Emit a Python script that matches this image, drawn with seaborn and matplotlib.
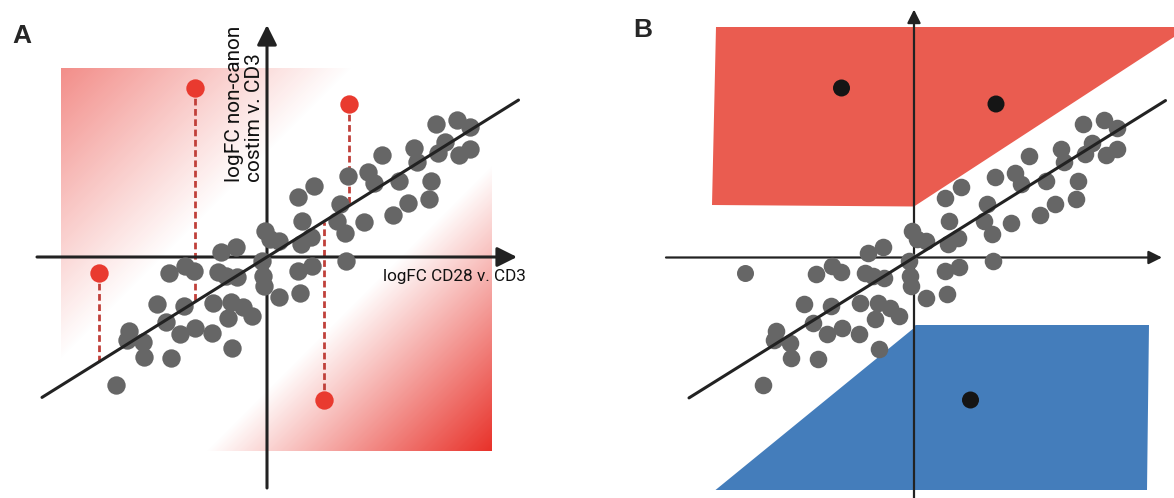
import numpy as np
import matplotlib.pyplot as plt
import seaborn as sns

sns.set_theme(style="white")
plt.rcParams["font.family"] = ["Roboto", "DejaVu Sans"]

# ========== data (logFC units, read off the schematic) ==========
# grey genes, shared by panel A and panel B
gene_x = [3.37, 3.80, 4.05, 3.55, 3.42, 3.84, 4.06, 2.94, 2.99, 2.29, 2.02, 2.13,
          2.64, 3.27, 3.23, 2.82, 2.51, 1.94, 1.62, 1.45, 1.40, 1.56, 1.58, 0.94,
          0.61, 0.70, 0.87, 0.67, -0.04, 0.06, 0.23, 0.89, 0.62, 0.65, 0.23, -0.11,
          -0.09, -0.07, -0.63, -0.93, -0.98, -0.61, -0.83, -1.47, -1.65, -1.96,
          -1.09, -0.73, -0.48, -0.30, -0.79, -1.67, -2.20, -2.02, -1.44, -1.11,
          -1.74, -2.77, -2.81, -2.48, -2.47, -1.92, -0.70, -3.03]
gene_y = [2.67, 2.75, 2.60, 2.30, 2.08, 2.05, 2.17, 2.18, 1.91, 2.04, 1.70, 1.48,
          1.53, 1.53, 1.17, 1.08, 0.85, 0.70, 1.62, 1.07, 0.73, 0.48, -0.07, 1.42,
          1.20, 0.73, 0.40, 0.27, 0.53, 0.37, 0.33, -0.18, -0.27, -0.72, -0.80, -0.07,
          -0.37, -0.57, 0.21, 0.10, -0.30, -0.40, -0.37, -0.28, -0.17, -0.32,
          -0.91, -0.90, -1.00, -1.17, -1.22, -0.97, -0.93, -1.30, -1.41, -1.52,
          -1.53, -1.47, -1.65, -1.70, -2.00, -2.02, -1.82, -2.55]

# genes off the trend (red in A); zone they fall in for B
out_x = [-1.45, 1.64, -3.37, 1.13]
out_y = [3.39, 3.07, -0.32, -2.85]
out_zone = ["up", "up", "none", "down"]

# trend line y = slope * x
slope = 0.624
line_x = [-4.5, 5.03]

# panel B zones
red_zone_x = [-3.96, 5.2, 5.2, 0.0, -4.04]
red_zone_y = [4.61, 4.61, 4.41, 1.02, 1.05]
blue_zone_x = [0.0, 0.03, 4.70, 4.66, -3.97]
blue_zone_y = [-1.41, -1.35, -1.35, -4.65, -4.65]

# ========== style ==========
C_GREY = "#666666"
C_LINE = "#222222"
C_OUT = "#E93A2F"
C_DASH = "#C0403A"
C_RED = "#EA5C50"
C_BLUE = "#447DBB"
RED_RGB = (0.91, 0.19, 0.16)

fig = plt.figure(figsize=(11.74, 4.98), dpi=100)
ax_a = fig.add_axes([0, 0, 0.5, 1])
ax_b = fig.add_axes([0.5, 0, 0.5, 1])


def draw_axis(ax, x0, x1, y0, y1, lw, ms):
    props = dict(arrowstyle="-|>", color=C_LINE, lw=lw, mutation_scale=ms,
                 shrinkA=0, shrinkB=0)
    ax.annotate("", xy=(x1, 0), xytext=(x0, 0), arrowprops=props, zorder=2)
    ax.annotate("", xy=(0, y1), xytext=(0, y0), arrowprops=props, zorder=2)


def draw_trend(ax):
    sns.lineplot(x=line_x, y=[slope * v for v in line_x], ax=ax, color=C_LINE,
                 lw=2.2, zorder=5, legend=False)


# ========== A ==========
gx = np.linspace(-4.12, 4.5, 400)
gy = np.linspace(-3.88, 3.78, 400)
GX, GY = np.meshgrid(gx, gy)
u = (GX - GY) / np.sqrt(2)
alpha = np.clip((-u - 1.45) / (5.59 - 1.45), 0, 1) * 0.55
alpha += np.clip((u - 1.88) / (5.93 - 1.88), 0, 1)
rgba = np.zeros(GX.shape + (4,))
rgba[..., :3] = RED_RGB
rgba[..., 3] = alpha
ax_a.imshow(rgba, extent=(gx[0], gx[-1], gy[0], gy[-1]), origin="lower",
            aspect="auto", interpolation="bilinear", zorder=0)

draw_axis(ax_a, -4.6, 5.0, -4.62, 4.64, 2.2, 30)

for x, y in zip(out_x, out_y):
    ax_a.plot([x, x], [y, slope * x], ls=(0, (2.4, 1.3)), color=C_DASH, lw=2.0,
              zorder=1.5)

sns.scatterplot(x=gene_x, y=gene_y, ax=ax_a, s=175, color=C_GREY, linewidth=0,
                zorder=3, legend=False)
sns.scatterplot(x=out_x, y=out_y, ax=ax_a, s=175, color=C_OUT, linewidth=0,
                zorder=3, legend=False)
draw_trend(ax_a)

ax_a.text(2.32, -0.47, "logFC CD28 v. CD3", fontsize=12.3, ha="left",
          va="baseline", color="#111111", zorder=6)
ax_a.text(-0.05, 1.5, "logFC non-canon\ncostim v. CD3", fontsize=15, rotation=90,
          ha="right", va="bottom", multialignment="left", linespacing=1.12,
          color="#111111", zorder=6)

ax_a.set_xlim(-5.34, 6.40)
ax_a.set_ylim(-4.82, 5.14)
ax_a.set_axis_off()

# ========== B ==========
ax_b.fill(red_zone_x, red_zone_y, color=C_RED, lw=0, zorder=0)
ax_b.fill(blue_zone_x, blue_zone_y, color=C_BLUE, lw=0, zorder=0)

draw_axis(ax_b, -4.96, 4.96, -4.9, 4.96, 1.6, 20)

sns.scatterplot(x=gene_x, y=gene_y, ax=ax_b, s=160, color=C_GREY, linewidth=0,
                zorder=3, legend=False)
sns.scatterplot(x=out_x, y=out_y, hue=out_zone, ax=ax_b, s=150, linewidth=0,
                palette={"up": "#151515", "down": "#151515", "none": C_GREY},
                zorder=3, legend=False)
draw_trend(ax_b)

ax_b.set_xlim(-6.54, 5.20)
ax_b.set_ylim(-4.81, 5.15)
ax_b.set_axis_off()

fig.text(12 / 1174, 1 - 43 / 498, "A", fontsize=19, fontweight="bold",
         family=["Liberation Sans", "DejaVu Sans"], ha="left", va="baseline")
fig.text(633 / 1174, 1 - 37 / 498, "B", fontsize=19, fontweight="bold",
         family=["Liberation Sans", "DejaVu Sans"], ha="left", va="baseline")

fig.savefig("out.png", dpi=100)
